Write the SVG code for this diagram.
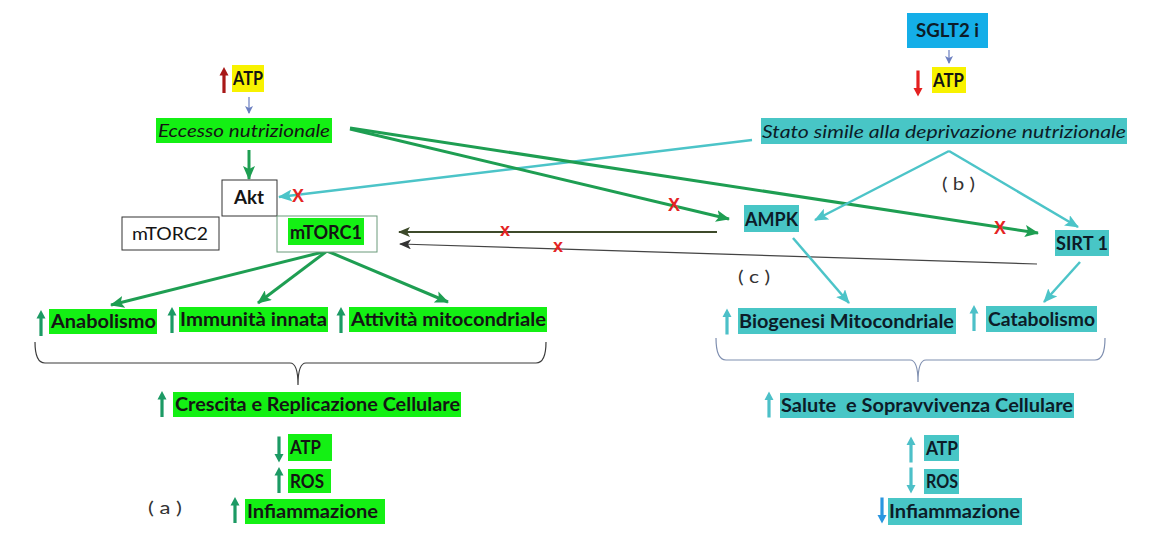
<svg xmlns="http://www.w3.org/2000/svg" width="1161" height="533" viewBox="0 0 1161 533">
<style>
text{font-family:Lato,"Liberation Sans",sans-serif;font-size:18px;fill:#141414;white-space:pre}
.b{font-weight:bold}
.i{font-style:italic}
.tc{fill:#0c1c28}
.lbl{font-size:17px;fill:#333}
.g{fill:#14f014}
.c{fill:#48c6c6}
.y{fill:#f8f200}
.box{fill:#fff;stroke:#333;stroke-width:1}
.xr{font-family:"Liberation Sans",sans-serif;font-weight:bold;fill:#e42424;text-anchor:middle}
.gl{stroke:#1e9e52;stroke-width:3;fill:none}
.cl{stroke:#4cc4c8;stroke-width:2.5;fill:none}
</style>
<defs>
<path id="up" d="M0,-13 L4.5,-4.5 L1.6,-4.5 L1.6,13 L-1.6,13 L-1.6,-4.5 L-4.5,-4.5 Z"/>
<marker id="mg" markerUnits="userSpaceOnUse" markerWidth="14" markerHeight="12" viewBox="0 0 14 12" refX="13" refY="6" orient="auto"><path d="M0,0 L14,6 L0,12 L3,6 Z" fill="#1e9e52"/></marker>
<marker id="mc" markerUnits="userSpaceOnUse" markerWidth="14" markerHeight="12" viewBox="0 0 14 12" refX="13" refY="6" orient="auto"><path d="M0,0 L14,6 L0,12 L3,6 Z" fill="#4cc4c8"/></marker>
<marker id="mo" markerUnits="userSpaceOnUse" markerWidth="12" markerHeight="10" viewBox="0 0 12 10" refX="11" refY="5" orient="auto"><path d="M0,0 L12,5 L0,10 L3,5 Z" fill="#3d4a2a"/></marker>
<marker id="mk" markerUnits="userSpaceOnUse" markerWidth="12" markerHeight="10" viewBox="0 0 12 10" refX="11" refY="5" orient="auto"><path d="M0,0 L12,5 L0,10 L3,5 Z" fill="#333"/></marker>
<marker id="mb" markerUnits="userSpaceOnUse" markerWidth="8" markerHeight="8" viewBox="0 0 8 8" refX="7" refY="4" orient="auto"><path d="M0,0 L8,4 L0,8 L2,4 Z" fill="#6a7ec0"/></marker>
</defs>

<g id="connectors">
<line x1="249" y1="97" x2="249" y2="113" stroke="#6a7ec0" stroke-width="1.2" marker-end="url(#mb)"/>
<line x1="949" y1="50" x2="949" y2="63" stroke="#6a7ec0" stroke-width="1.2" marker-end="url(#mb)"/>
<line class="gl" x1="249" y1="150" x2="249" y2="179" marker-end="url(#mg)"/>
<line class="cl" x1="752" y1="140" x2="279" y2="197" marker-end="url(#mc)"/>
<line class="gl" x1="350" y1="129" x2="729" y2="219" marker-end="url(#mg)"/>
<line class="gl" x1="350" y1="128" x2="1038" y2="233" marker-end="url(#mg)"/>
<line class="cl" x1="949" y1="151" x2="815" y2="220" marker-end="url(#mc)"/>
<line class="cl" x1="949" y1="151" x2="1078" y2="227" marker-end="url(#mc)"/>
<line x1="717" y1="232" x2="399" y2="232" stroke="#3d4a2a" stroke-width="2" marker-end="url(#mo)"/>
<line x1="1037" y1="264" x2="400" y2="244" stroke="#444" stroke-width="1.2" marker-end="url(#mk)"/>
<line class="gl" x1="327" y1="251" x2="111" y2="305" marker-end="url(#mg)"/>
<line class="gl" x1="327" y1="251" x2="258" y2="303" marker-end="url(#mg)"/>
<line class="gl" x1="327" y1="251" x2="448" y2="302" marker-end="url(#mg)"/>
<line class="cl" x1="793" y1="238" x2="849" y2="303" marker-end="url(#mc)"/>
<line class="cl" x1="1080" y1="262" x2="1044" y2="302" marker-end="url(#mc)"/>
<text class="xr" x="298" y="202" font-size="19">X</text>
<text class="xr" x="674" y="211" font-size="17">X</text>
<text class="xr" x="1000" y="234" font-size="17">X</text>
<text class="xr" x="505" y="236" font-size="12">x</text>
<text class="xr" x="558" y="252" font-size="12">x</text>
</g>

<g id="atp-top-left">
<use href="#up" transform="translate(224,80)" fill="#a81818"/>
<rect class="y" x="232" y="65" width="32" height="27"/>
<text class="b" x="233" y="85" textLength="30" lengthAdjust="spacingAndGlyphs">ATP</text>
</g>
<g id="eccesso">
<rect class="g" x="156" y="118" width="176" height="25"/>
<text class="i" x="158" y="137" textLength="172" lengthAdjust="spacingAndGlyphs">Eccesso nutrizionale</text>
</g>
<g id="akt">
<rect class="box" x="222" y="180" width="55" height="36"/>
<text class="b" x="234" y="204" textLength="30" lengthAdjust="spacingAndGlyphs">Akt</text>
</g>
<g id="mtorc2">
<rect class="box" x="122" y="217" width="97" height="33"/>
<text x="132" y="240" textLength="76" lengthAdjust="spacingAndGlyphs">mTORC2</text>
</g>
<g id="mtorc1">
<rect x="277" y="216" width="100" height="36" fill="#fff" stroke="#6a9a7a" stroke-width="1"/>
<rect class="g" x="288" y="218" width="76" height="27"/>
<text class="b" x="290" y="239" textLength="72" lengthAdjust="spacingAndGlyphs">mTORC1</text>
</g>

<g id="sglt2">
<rect x="907" y="13" width="81" height="35" fill="#14aee8"/>
<text class="b tc" x="916" y="37" textLength="63" lengthAdjust="spacingAndGlyphs">SGLT2 i</text>
</g>
<g id="atp-top-right">
<use href="#up" transform="translate(918,83.5) rotate(180)" fill="#e42020"/>
<rect class="y" x="932" y="67" width="34" height="26"/>
<text class="b" x="933" y="87" textLength="31" lengthAdjust="spacingAndGlyphs">ATP</text>
</g>
<g id="stato">
<rect class="c" x="761" y="118" width="366" height="26"/>
<text class="i tc" x="762" y="138" textLength="364" lengthAdjust="spacingAndGlyphs">Stato simile alla deprivazione nutrizionale</text>
</g>
<g id="label-b"><text class="lbl" x="942" y="190" textLength="33" lengthAdjust="spacingAndGlyphs">( b )</text></g>
<g id="ampk">
<rect class="c" x="744" y="205" width="55" height="27"/>
<text class="b tc" x="745" y="226" textLength="53" lengthAdjust="spacingAndGlyphs">AMPK</text>
</g>
<g id="sirt1">
<rect class="c" x="1055" y="230" width="54" height="26"/>
<text class="b tc" x="1056" y="250" textLength="52" lengthAdjust="spacingAndGlyphs">SIRT 1</text>
</g>
<g id="label-c"><text class="lbl" x="738" y="283" textLength="32" lengthAdjust="spacingAndGlyphs">( c )</text></g>

<g id="anabolismo">
<use href="#up" transform="translate(41,323)" fill="#1c9a64"/>
<rect class="g" x="49" y="309" width="108" height="25"/>
<text class="b" x="51" y="328" textLength="105" lengthAdjust="spacingAndGlyphs">Anabolismo</text>
</g>
<g id="immunita">
<use href="#up" transform="translate(172,320)" fill="#1c9a64"/>
<rect class="g" x="179" y="307" width="149" height="25"/>
<text class="b" x="180" y="326" textLength="147" lengthAdjust="spacingAndGlyphs">Immunità innata</text>
</g>
<g id="attivita">
<use href="#up" transform="translate(341,320)" fill="#1c9a64"/>
<rect class="g" x="349" y="307" width="198" height="25"/>
<text class="b" x="351" y="326" textLength="195" lengthAdjust="spacingAndGlyphs">Attività mitocondriale</text>
</g>
<g id="brace-left">
<path d="M35,342 Q35,363 45,363 L290,363 Q298,363 298,385 Q298,363 306,363 L536,363 Q546,363 546,342" fill="none" stroke="#3a3a3a" stroke-width="1.2"/>
</g>
<g id="crescita">
<use href="#up" transform="translate(162,404)" fill="#1c9a64"/>
<rect class="g" x="173" y="392" width="288" height="25"/>
<text class="b" x="175" y="411" textLength="285" lengthAdjust="spacingAndGlyphs">Crescita e Replicazione Cellulare</text>
</g>
<g id="atp-left">
<use href="#up" transform="translate(279,449.5) rotate(180)" fill="#1c9a64"/>
<rect class="g" x="288" y="434" width="44" height="27"/>
<text class="b" x="290" y="454" textLength="31" lengthAdjust="spacingAndGlyphs">ATP</text>
</g>
<g id="ros-left">
<use href="#up" transform="translate(279,480)" fill="#1c9a64"/>
<rect class="g" x="288" y="469" width="43" height="24"/>
<text class="b" x="290" y="488" textLength="34" lengthAdjust="spacingAndGlyphs">ROS</text>
</g>
<g id="infiammazione-left">
<use href="#up" transform="translate(235,510)" fill="#1c9a64"/>
<rect class="g" x="245" y="499" width="140" height="25"/>
<text class="b" x="247" y="518" textLength="131" lengthAdjust="spacingAndGlyphs">Infiammazione</text>
</g>
<g id="label-a"><text class="lbl" x="148" y="514" textLength="34" lengthAdjust="spacingAndGlyphs">( a )</text></g>

<g id="biogenesi">
<use href="#up" transform="translate(727,321.5)" fill="#4cc0c8"/>
<rect class="c" x="738" y="308" width="218" height="26"/>
<text class="b tc" x="739" y="328" textLength="215" lengthAdjust="spacingAndGlyphs">Biogenesi Mitocondriale</text>
</g>
<g id="catabolismo">
<use href="#up" transform="translate(974,318)" fill="#4cc0c8"/>
<rect class="c" x="986" y="306" width="111" height="26"/>
<text class="b tc" x="988" y="326" textLength="107" lengthAdjust="spacingAndGlyphs">Catabolismo</text>
</g>
<g id="brace-right">
<path d="M716,338 Q716,360 726,360 L910,360 Q918,360 918,382 Q918,360 926,360 L1095,360 Q1105,360 1105,338" fill="none" stroke="#7f8fb0" stroke-width="1.2"/>
</g>
<g id="salute">
<use href="#up" transform="translate(769,404.5)" fill="#4cc0c8"/>
<rect class="c" x="780" y="393" width="294" height="25"/>
<text class="b tc" x="781" y="412" textLength="292" lengthAdjust="spacingAndGlyphs">Salute  e Sopravvivenza Cellulare</text>
</g>
<g id="atp-right">
<use href="#up" transform="translate(911,449.5)" fill="#4cc0c8"/>
<rect class="c" x="924" y="435" width="35" height="26"/>
<text class="b tc" x="926" y="455" textLength="32" lengthAdjust="spacingAndGlyphs">ATP</text>
</g>
<g id="ros-right">
<use href="#up" transform="translate(911,480.5) rotate(180)" fill="#4cc0c8"/>
<rect class="c" x="924" y="469" width="35" height="25"/>
<text class="b tc" x="926" y="488" textLength="32" lengthAdjust="spacingAndGlyphs">ROS</text>
</g>
<g id="infiammazione-right">
<use href="#up" transform="translate(882,510.5) rotate(180)" fill="#2a96e0"/>
<rect class="c" x="888" y="498" width="134" height="27"/>
<text class="b tc" x="889" y="518" textLength="131" lengthAdjust="spacingAndGlyphs">Infiammazione</text>
</g>
</svg>
